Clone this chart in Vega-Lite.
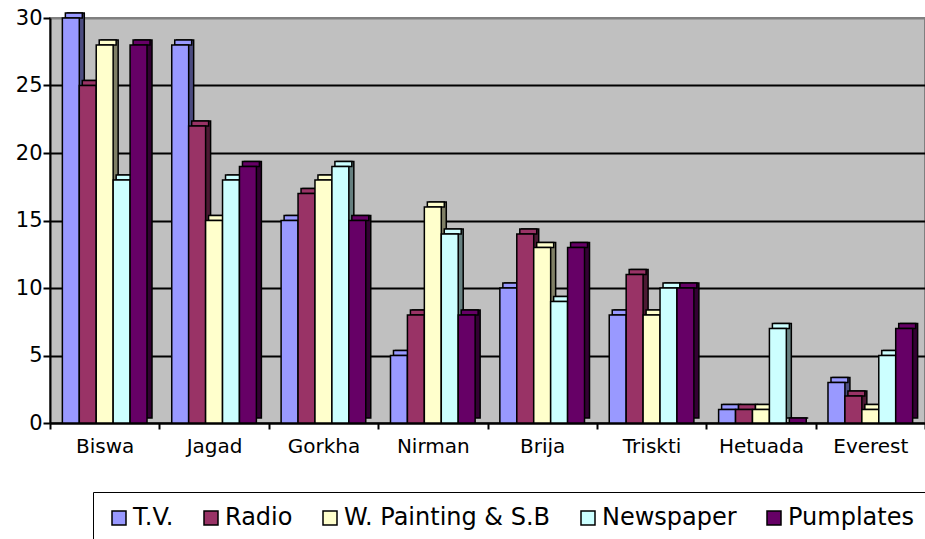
{
  "$schema": "https://vega.github.io/schema/vega-lite/v6.json",
  "autosize": "none",
  "width": 875,
  "height": 405,
  "padding": {"left": 50, "top": 18, "right": 0, "bottom": 116},
  "background": "white",
  "config": {
    "font": "DejaVu Sans",
    "view": {"fill": "#c0c0c0", "stroke": "#808080", "strokeWidth": 2},
    "axis": {
      "labelFont": "DejaVu Sans",
      "labelColor": "black",
      "labelFontSize": 20,
      "domainColor": "black",
      "domainWidth": 2,
      "tickColor": "black",
      "tickWidth": 2
    }
  },
  "data": {
    "values": [
      {"site": "Biswa", "medium": "T.V.", "count": 30},
      {"site": "Biswa", "medium": "Radio", "count": 25},
      {"site": "Biswa", "medium": "W. Painting & S.B", "count": 28},
      {"site": "Biswa", "medium": "Newspaper", "count": 18},
      {"site": "Biswa", "medium": "Pumplates", "count": 28},
      {"site": "Jagad", "medium": "T.V.", "count": 28},
      {"site": "Jagad", "medium": "Radio", "count": 22},
      {"site": "Jagad", "medium": "W. Painting & S.B", "count": 15},
      {"site": "Jagad", "medium": "Newspaper", "count": 18},
      {"site": "Jagad", "medium": "Pumplates", "count": 19},
      {"site": "Gorkha", "medium": "T.V.", "count": 15},
      {"site": "Gorkha", "medium": "Radio", "count": 17},
      {"site": "Gorkha", "medium": "W. Painting & S.B", "count": 18},
      {"site": "Gorkha", "medium": "Newspaper", "count": 19},
      {"site": "Gorkha", "medium": "Pumplates", "count": 15},
      {"site": "Nirman", "medium": "T.V.", "count": 5},
      {"site": "Nirman", "medium": "Radio", "count": 8},
      {"site": "Nirman", "medium": "W. Painting & S.B", "count": 16},
      {"site": "Nirman", "medium": "Newspaper", "count": 14},
      {"site": "Nirman", "medium": "Pumplates", "count": 8},
      {"site": "Brija", "medium": "T.V.", "count": 10},
      {"site": "Brija", "medium": "Radio", "count": 14},
      {"site": "Brija", "medium": "W. Painting & S.B", "count": 13},
      {"site": "Brija", "medium": "Newspaper", "count": 9},
      {"site": "Brija", "medium": "Pumplates", "count": 13},
      {"site": "Triskti", "medium": "T.V.", "count": 8},
      {"site": "Triskti", "medium": "Radio", "count": 11},
      {"site": "Triskti", "medium": "W. Painting & S.B", "count": 8},
      {"site": "Triskti", "medium": "Newspaper", "count": 10},
      {"site": "Triskti", "medium": "Pumplates", "count": 10},
      {"site": "Hetuada", "medium": "T.V.", "count": 1},
      {"site": "Hetuada", "medium": "Radio", "count": 1},
      {"site": "Hetuada", "medium": "W. Painting & S.B", "count": 1},
      {"site": "Hetuada", "medium": "Newspaper", "count": 7},
      {"site": "Hetuada", "medium": "Pumplates", "count": 0},
      {"site": "Everest", "medium": "T.V.", "count": 3},
      {"site": "Everest", "medium": "Radio", "count": 2},
      {"site": "Everest", "medium": "W. Painting & S.B", "count": 1},
      {"site": "Everest", "medium": "Newspaper", "count": 5},
      {"site": "Everest", "medium": "Pumplates", "count": 7}
    ]
  },
  "encoding": {
    "x": {
      "field": "site",
      "type": "nominal",
      "sort": null,
      "scale": {"paddingInner": 0, "paddingOuter": 0},
      "axis": {
        "title": null,
        "labelAngle": 0,
        "tickBand": "extent",
        "tickSize": 6,
        "labelPadding": 7,
        "grid": false
      }
    },
    "y": {
      "field": "count",
      "type": "quantitative",
      "scale": {"domain": [0, 30], "nice": false},
      "axis": {
        "title": null,
        "values": [0, 5, 10, 15, 20, 25, 30],
        "tickSize": 7,
        "labelPadding": 1,
        "labelFontSize": 21,
        "grid": true,
        "gridColor": {"condition": {"test": "datum.value === 30", "value": "#808080"}, "value": "black"},
        "gridWidth": 2
      }
    }
  },
  "layer": [
    {
      "description": "right-hand depth face of each bar",
      "mark": {
        "type": "bar",
        "yOffset": -5,
        "y2Offset": -5,
        "stroke": "black",
        "strokeWidth": 1.5
      },
      "encoding": {
        "xOffset": {
          "field": "medium",
          "type": "nominal",
          "sort": null,
          "scale": {"paddingInner": 0, "paddingOuter": 0.73, "range": [5, 114.375]}
        },
        "color": {
          "field": "medium",
          "type": "nominal",
          "sort": null,
          "scale": {
            "domain": ["T.V.", "Radio", "W. Painting & S.B", "Newspaper", "Pumplates"],
            "range": ["#4c4c80", "#4c1933", "#808066", "#668080", "#330033"]
          },
          "legend": null
        }
      }
    },
    {
      "description": "top face of each bar",
      "mark": {
        "type": "bar",
        "yOffset": -5,
        "y2Offset": 0,
        "stroke": "black",
        "strokeWidth": 1.5
      },
      "encoding": {
        "xOffset": {
          "field": "medium",
          "type": "nominal",
          "sort": null,
          "scale": {"paddingInner": 0, "paddingOuter": 0.73, "range": [3, 112.375]}
        },
        "y2": {"field": "count"},
        "color": {
          "field": "medium",
          "type": "nominal",
          "sort": null,
          "scale": {
            "domain": ["T.V.", "Radio", "W. Painting & S.B", "Newspaper", "Pumplates"],
            "range": ["#9999ff", "#993366", "#ffffcc", "#ccffff", "#660066"]
          },
          "legend": null
        }
      }
    },
    {
      "description": "front face of each bar",
      "mark": {"type": "bar", "stroke": "black", "strokeWidth": 1.5},
      "encoding": {
        "xOffset": {
          "field": "medium",
          "type": "nominal",
          "sort": null,
          "scale": {"paddingInner": 0, "paddingOuter": 0.73}
        },
        "color": {
          "field": "medium",
          "type": "nominal",
          "sort": null,
          "scale": {
            "domain": ["T.V.", "Radio", "W. Painting & S.B", "Newspaper", "Pumplates"],
            "range": ["#9999ff", "#993366", "#ffffcc", "#ccffff", "#660066"]
          },
          "legend": {
            "title": null,
            "orient": "none",
            "legendX": 43,
            "legendY": 474,
            "direction": "horizontal",
            "columns": 5,
            "columnPadding": 25,
            "fillColor": "white",
            "strokeColor": "black",
            "padding": 14,
            "labelFont": "DejaVu Sans",
            "labelFontSize": 24,
            "labelColor": "black",
            "labelLimit": 0,
            "labelOffset": 2,
            "symbolType": "square",
            "symbolSize": 196,
            "symbolStrokeColor": "black",
            "symbolStrokeWidth": 1.5
          }
        }
      }
    }
  ],
  "resolve": {"scale": {"color": "independent", "xOffset": "independent"}}
}
